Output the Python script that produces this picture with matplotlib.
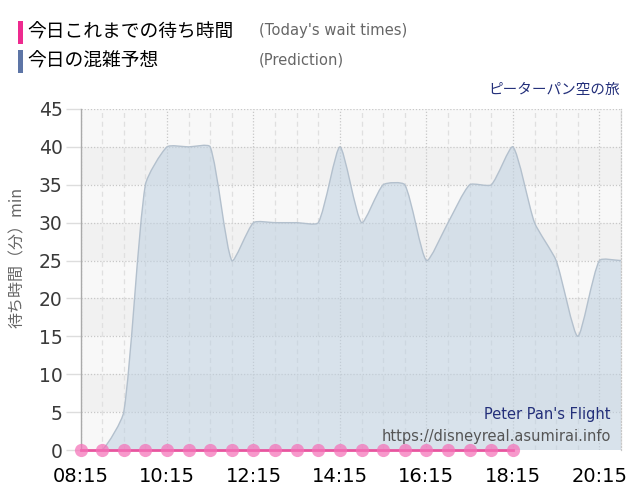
import matplotlib
matplotlib.use("Agg")
import matplotlib.pyplot as plt
from matplotlib.path import Path
from matplotlib.patches import PathPatch, Rectangle
import numpy as np

# ---- data ----
pred_times = ["08:15", "08:45", "09:15", "09:45", "10:15", "10:45", "11:15", "11:45",
              "12:15", "12:45", "13:15", "13:45", "14:15", "14:45", "15:15", "15:45",
              "16:15", "16:45", "17:15", "17:45", "18:15", "18:45", "19:15", "19:45",
              "20:15", "20:45"]
pred_values = [0, 0, 5, 35, 40, 40, 40, 25,
               30, 30, 30, 30, 40, 30, 35, 35,
               25, 30, 35, 35, 40, 30, 25, 15,
               25, 25]
actual_times = ["08:15", "08:45", "09:15", "09:45", "10:15", "10:45", "11:15", "11:45",
                "12:15", "12:45", "13:15", "13:45", "14:15", "14:45", "15:15", "15:45",
                "16:15", "16:45", "17:15", "17:45", "18:15"]
actual_values = [0] * 21
tick_labels = ["08:15", "10:15", "12:15", "14:15", "16:15", "18:15", "20:15"]
y_ticks = [0, 5, 10, 15, 20, 25, 30, 35, 40, 45]

JP = ["Noto Sans CJK JP", "DejaVu Sans"]


def tmin(s):
    h, m = s.split(":")
    return int(h) * 60 + int(m)


px = np.array([tmin(t) for t in pred_times], dtype=float)
py = np.array(pred_values, dtype=float)
ax_t = np.array([tmin(t) for t in actual_times], dtype=float)

fig = plt.figure(figsize=(6.4, 5.0), dpi=100)
W, H = 640, 500
L, R, T, B = 80.5, 621, 109, 450
ax = fig.add_axes([L / W, 1 - B / H, (R - L) / W, (B - T) / H])
ax.set_xlim(px[0], px[-1])
ax.set_ylim(0, 45)
ax.set_facecolor("#f8f8f8")


def spline_path(x, y, tension=0.2):
    # cardinal-style spline computed in display space, returned in data coords
    pts = ax.transData.transform(np.column_stack([x, y]))
    n = len(pts)
    cprev = np.zeros_like(pts)
    cnext = np.zeros_like(pts)
    for i in range(n):
        cur = pts[i]
        prev = pts[i - 1] if i > 0 else cur
        nxt = pts[i + 1] if i < n - 1 else cur
        d01 = np.hypot(*(cur - prev))
        d12 = np.hypot(*(nxt - cur))
        tot = d01 + d12
        s01 = d01 / tot if tot else 0.0
        s12 = d12 / tot if tot else 0.0
        cprev[i] = cur - tension * s01 * (nxt - prev)
        cnext[i] = cur + tension * s12 * (nxt - prev)
    inv = ax.transData.inverted()
    cprev = inv.transform(cprev)
    cnext = inv.transform(cnext)
    verts = [(x[0], y[0])]
    codes = [Path.MOVETO]
    for i in range(1, n):
        verts += [tuple(cnext[i - 1]), tuple(cprev[i]), (x[i], y[i])]
        codes += [Path.CURVE4] * 3
    return verts, codes


# alternating bands
for k in range(9):
    if k % 2 == 1:
        ax.axhspan(k * 5, k * 5 + 5, color="#f1f1f1", zorder=0, lw=0)

# grid
for t in np.arange(px[0], px[-1] + 1, 30):
    if (t - px[0]) % 120 == 0:
        ax.axvline(t, color="#c8c8c8", lw=0.9, ls=(0, (1, 1.5)), zorder=1)
    else:
        ax.axvline(t, color="#e0e0e0", lw=0.9, ls=(0, (4, 3)), zorder=1)
for v in y_ticks[1:]:
    ax.axhline(v, color="#c8c8c8", lw=0.9, ls=(0, (1, 1.5)), zorder=1)

# prediction area spline
verts, codes = spline_path(px, py, tension=0.2)
fill_verts = verts + [(px[-1], 0), (px[0], 0), (px[0], py[0])]
fill_codes = codes + [Path.LINETO, Path.LINETO, Path.CLOSEPOLY]
ax.add_patch(PathPatch(Path(fill_verts, fill_codes), facecolor="#bfd1e1", alpha=0.55,
                       edgecolor="none", zorder=2))
ax.add_patch(PathPatch(Path(verts, codes), facecolor="none", edgecolor="#b3c0cd",
                       lw=1.0, zorder=3))

# actual wait times
ax.plot(ax_t, actual_values, color="#e8559f", lw=2, zorder=5, clip_on=False)
ax.plot(ax_t, actual_values, ls="none", marker="o", ms=9.5, mfc="#f571b8", mec="none",
        alpha=0.72, zorder=6, clip_on=False)

# axes styling
for s in ["top", "bottom"]:
    ax.spines[s].set_visible(False)
ax.spines["left"].set_color("#aaaaaa")
ax.spines["left"].set_linewidth(1)
ax.spines["right"].set_color("#c8c8c8")
ax.spines["right"].set_linestyle((0, (1, 1.5)))
ax.spines["right"].set_linewidth(0.9)

ax.set_xticks([tmin(t) for t in tick_labels])
ax.set_xticklabels(tick_labels, fontsize=14, color="black")
ax.tick_params(axis="x", length=0, pad=12)
ax.set_yticks(y_ticks)
ax.set_yticklabels([str(v) for v in y_ticks], fontsize=13.5, color="#3a3a3a")
ax.tick_params(axis="y", length=11, width=1, color="#dddddd", pad=2)

# y label
fig.text(17 / W, 1 - 257 / H, "待ち時間（分）min", rotation=90, ha="center", va="center",
         fontsize=11.5, color="#666666", family=JP)

# legend
fig.patches.append(Rectangle((18 / W, 1 - 44 / H), 5 / W, 23 / H, transform=fig.transFigure,
                             facecolor="#ee2a8f", edgecolor="none"))
fig.patches.append(Rectangle((18 / W, 1 - 73 / H), 5 / W, 23 / H, transform=fig.transFigure,
                             facecolor="#5d75a6", edgecolor="none"))
fig.text(27 / W, 1 - 32 / H, "今日これまでの待ち時間", ha="left", va="center", fontsize=13.5,
         color="black", family=JP)
fig.text(27 / W, 1 - 61 / H, "今日の混雑予想", ha="left", va="center", fontsize=13.5,
         color="black", family=JP)
fig.text(259 / W, 1 - 31 / H, "(Today's wait times)", ha="left", va="center", fontsize=10.6,
         color="#666666")
fig.text(259 / W, 1 - 60 / H, "(Prediction)", ha="left", va="center", fontsize=10.6,
         color="#666666")

# titles
fig.text(620 / W, 1 - 90 / H, "ピーターパン空の旅", ha="right", va="center", fontsize=10.5,
         color="#232f7a", family=JP)
fig.text(611 / W, 1 - 415 / H, "Peter Pan's Flight", ha="right", va="center", fontsize=10.5,
         color="#232f7a")
fig.text(611 / W, 1 - 436 / H, "https://disneyreal.asumirai.info", ha="right", va="center",
         fontsize=10.5, color="#555555")

fig.savefig("out.png", dpi=100)
